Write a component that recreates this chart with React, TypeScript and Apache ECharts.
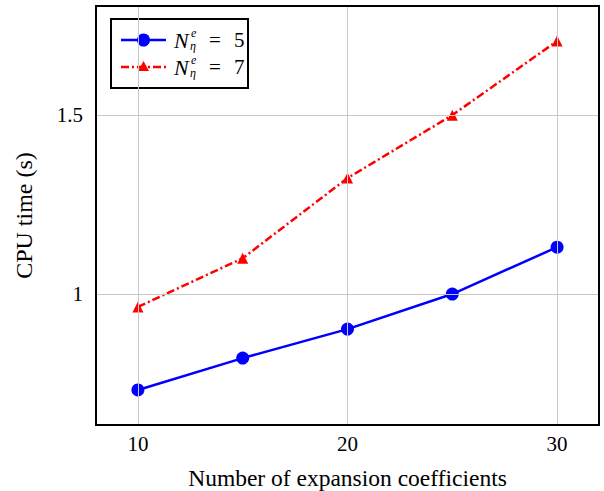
import React, { useEffect, useRef } from "react";
import * as echarts from "echarts";

const xValues = [10, 15, 20, 25, 30];
const seriesN5 = [0.732, 0.821, 0.902, 1.0, 1.131];
const seriesN7 = [0.964, 1.1, 1.324, 1.5, 1.707];
const xTicks = [10, 20, 30];
const yTicks = [1, 1.5];

const FONT = "'Liberation Serif', serif";

export default function App() {
  const ref = useRef<HTMLDivElement>(null);
  useEffect(() => {
    if (!ref.current) return;
    const chart = echarts.init(ref.current, null, { renderer: "svg" });
    const gridLines = [
      ...xTicks.map((v) => ({ xAxis: v })),
      ...yTicks.map((v) => ({ yAxis: v })),
    ];
    const dashDot = [8, 3, 2, 3];
    const txt = (text: string, x: number, y: number, size: number, italic: boolean) => ({
      type: "text",
      x,
      y,
      style: {
        text,
        font: (italic ? "italic " : "") + size + "px " + FONT,
        fontFamily: FONT,
        fontStyle: italic ? "italic" : "normal",
        fontSize: size,
        fill: "#000",
        verticalAlign: "middle",
      },
    });
    chart.setOption({
      animation: false,
      grid: {
        left: 96,
        right: 5,
        top: 6,
        bottom: 66,
        outerBoundsMode: "none",
        containLabel: false,
        show: true,
        borderColor: "#000",
        borderWidth: 2,
        backgroundColor: "transparent",
        z: 10,
      },
      xAxis: {
        type: "value",
        min: 8,
        max: 32,
        interval: 2,
        name: "Number of expansion coefficients",
        nameLocation: "middle",
        nameGap: 41,
        nameTextStyle: { fontFamily: FONT, fontSize: 23.5, color: "#000" },
        axisLine: { show: false },
        axisTick: { show: false },
        splitLine: { show: false },
        axisLabel: {
          customValues: xTicks,
          formatter: (v: number) => (xTicks.includes(v) ? String(v) : ""),
          fontFamily: FONT,
          fontSize: 21,
          color: "#000",
          margin: 8,
        },
      },
      yAxis: {
        type: "value",
        min: 0.634,
        max: 1.805,
        name: "CPU time (s)",
        nameLocation: "middle",
        nameGap: 60,
        nameTextStyle: { fontFamily: FONT, fontSize: 24, color: "#000" },
        axisLine: { show: false },
        axisTick: { show: false },
        splitLine: { show: false },
        axisLabel: {
          customValues: yTicks,
          formatter: (v: number) => (yTicks.includes(v) ? String(v) : ""),
          fontFamily: FONT,
          fontSize: 21,
          color: "#000",
          margin: 13,
        },
      },
      series: [
        {
          type: "line",
          data: [],
          z: 1,
          silent: true,
          markLine: {
            silent: true,
            symbol: "none",
            label: { show: false },
            lineStyle: { color: "#c8c8c8", width: 1, type: "solid" },
            data: gridLines,
          },
        },
        {
          name: "N5",
          type: "line",
          z: 3,
          data: xValues.map((x, i) => [x, seriesN5[i]]),
          symbol: "circle",
          symbolSize: 13,
          itemStyle: { color: "#0000ff" },
          lineStyle: { color: "#0000ff", width: 2.5 },
        },
        {
          name: "N7",
          type: "line",
          z: 3,
          data: xValues.map((x, i) => [x, seriesN7[i]]),
          symbol: "triangle",
          symbolSize: 11,
          itemStyle: { color: "#ff0000" },
          lineStyle: { color: "#ff0000", width: 2.5, type: dashDot },
        },
      ],
      graphic: [
        {
          type: "group",
          z: 100,
          children: [
            {
              type: "rect",
              shape: { x: 111, y: 19, width: 137, height: 69 },
              style: { fill: "#fff", stroke: "#000", lineWidth: 2 },
            },
            {
              type: "line",
              shape: { x1: 121, y1: 40, x2: 166, y2: 40 },
              style: { stroke: "#0000ff", lineWidth: 2.5 },
            },
            {
              type: "circle",
              shape: { cx: 143.5, cy: 40, r: 6.5 },
              style: { fill: "#0000ff" },
            },
            {
              type: "line",
              shape: { x1: 121, y1: 67, x2: 166, y2: 67 },
              style: { stroke: "#ff0000", lineWidth: 2.5, lineDash: dashDot },
            },
            {
              type: "polygon",
              shape: { points: [[143.5, 61], [149, 71], [138, 71]] },
              style: { fill: "#ff0000" },
            },
            ...[
              { y: 40, v: "5" },
              { y: 67, v: "7" },
            ].flatMap((r) => [
              txt("N", 174, r.y, 22, true),
              txt("e", 191, r.y - 7, 12, true),
              txt("η", 190, r.y + 6, 12, true),
              txt("=", 209, r.y, 21, false),
              txt(r.v, 234, r.y, 21, false),
            ]),
          ],
        },
      ],
    });
    return () => chart.dispose();
  }, []);
  return (
    <div
      ref={ref}
      style={{ position: "absolute", left: 0, top: 0, width: 604, height: 491 }}
    />
  );
}
